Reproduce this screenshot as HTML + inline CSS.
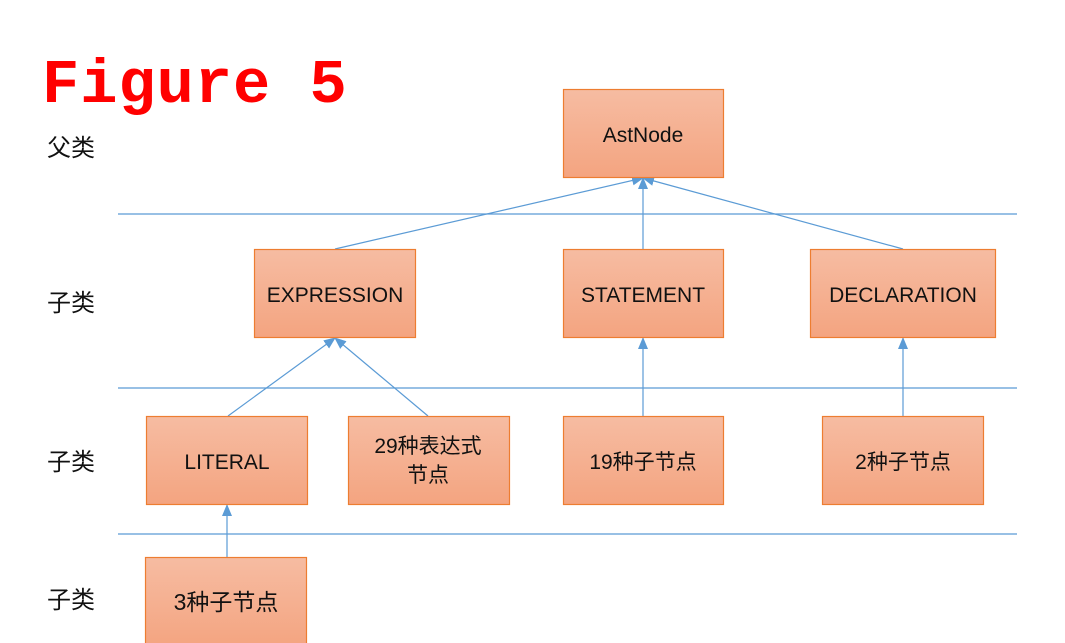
<!DOCTYPE html>
<html><head><meta charset="utf-8"><style>
html,body{margin:0;padding:0;background:#fff;width:1065px;height:643px;overflow:hidden}
svg text{font-family:"Liberation Sans","Noto Sans CJK SC",sans-serif}
</style></head><body>
<svg width="1065" height="643" viewBox="0 0 1065 643" xmlns="http://www.w3.org/2000/svg">
<defs>
<linearGradient id="g" x1="0" y1="0" x2="0" y2="1">
<stop offset="0" stop-color="#f6bca2"/><stop offset="1" stop-color="#f4a480"/>
</linearGradient>
<marker id="a" markerWidth="12" markerHeight="10" refX="11" refY="5" orient="auto" markerUnits="userSpaceOnUse">
<path d="M0,0 L12,5 L0,10 z" fill="#5b9bd5"/>
</marker>
</defs>
<text x="42" y="102" font-weight="bold" font-size="62" fill="#ff0000" letter-spacing="1" style="font-family:'Liberation Mono',monospace">Figure 5</text>
<g stroke="#5b9bd5" stroke-width="1.2">
<line x1="118" y1="214" x2="1017" y2="214"/>
<line x1="118" y1="388" x2="1017" y2="388"/>
<line x1="118" y1="534" x2="1017" y2="534"/>
<line x1="335" y1="249" x2="643" y2="178" marker-end="url(#a)"/>
<line x1="643" y1="249" x2="643" y2="178" marker-end="url(#a)"/>
<line x1="903" y1="249" x2="643" y2="178" marker-end="url(#a)"/>
<line x1="228" y1="416" x2="335" y2="338" marker-end="url(#a)"/>
<line x1="428" y1="416" x2="335" y2="338" marker-end="url(#a)"/>
<line x1="643" y1="416" x2="643" y2="338" marker-end="url(#a)"/>
<line x1="903" y1="416" x2="903" y2="338" marker-end="url(#a)"/>
<line x1="227" y1="557" x2="227" y2="505" marker-end="url(#a)"/>
</g>
<g fill="url(#g)" stroke="#ed7d31" stroke-width="1.2">
<rect x="563.5" y="89.5" width="160" height="88"/>
<rect x="254.5" y="249.5" width="161" height="88"/>
<rect x="563.5" y="249.5" width="160" height="88"/>
<rect x="810.5" y="249.5" width="185" height="88"/>
<rect x="146.5" y="416.5" width="161" height="88"/>
<rect x="348.5" y="416.5" width="161" height="88"/>
<rect x="563.5" y="416.5" width="160" height="88"/>
<rect x="822.5" y="416.5" width="161" height="88"/>
<rect x="145.5" y="557.5" width="161" height="90"/>
</g>
<g font-size="21" fill="#111" text-anchor="middle">
<text x="643" y="142">AstNode</text>
<text x="335" y="302">EXPRESSION</text>
<text x="643" y="302">STATEMENT</text>
<text x="903" y="302">DECLARATION</text>
<text x="227" y="469">LITERAL</text>
<text x="428" y="453">29种表达式</text>
<text x="428" y="482">节点</text>
<text x="643" y="469">19种子节点</text>
<text x="903" y="469">2种子节点</text>
<text x="226" y="610" font-size="23">3种子节点</text>
</g>
<g font-size="24" fill="#111">
<text x="47" y="156">父类</text>
<text x="47" y="311">子类</text>
<text x="47" y="470">子类</text>
<text x="47" y="608">子类</text>
</g>
</svg>
</body></html>
